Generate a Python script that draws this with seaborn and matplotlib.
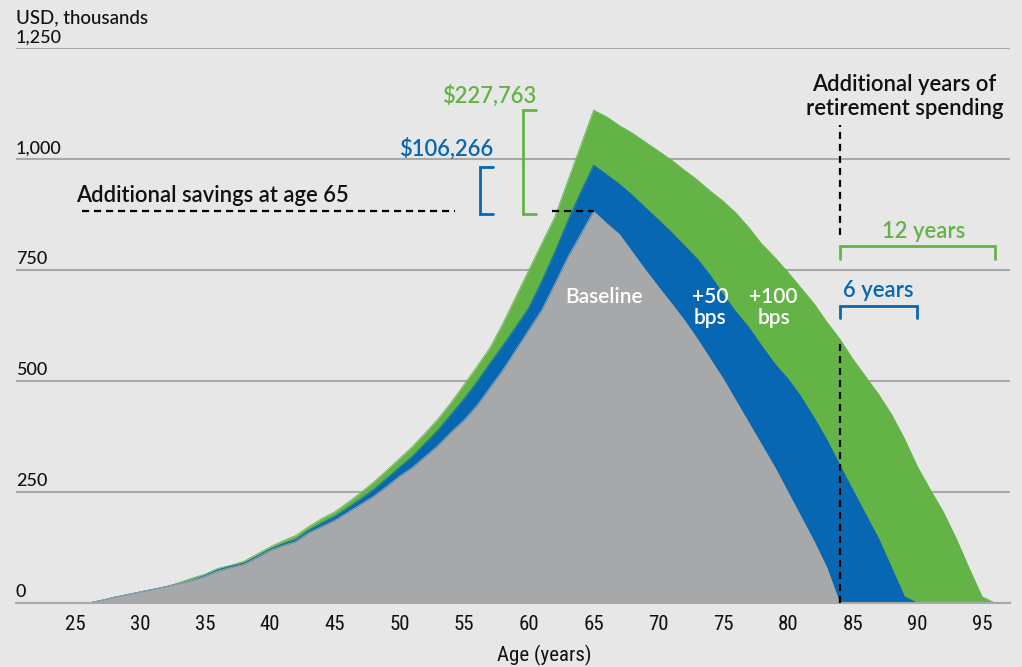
import numpy as np
import pandas as pd
import matplotlib
matplotlib.use("Agg")
import matplotlib.pyplot as plt
import seaborn as sns
from matplotlib import font_manager

# savings balance by age, USD thousands
ages = list(range(26, 97))
baseline = [0, 6, 13, 19, 25, 31, 37, 44, 51, 60, 72, 80, 87, 102, 118, 129, 138, 158, 172, 186,
            204, 222, 240, 262, 285, 305, 330, 355, 385, 412, 445, 485, 525, 570, 615, 660, 718, 778, 830, 882,
            855, 830, 790, 750, 712, 675, 637, 595, 550, 505, 455, 405, 355, 305, 250, 195, 140, 80, 0,
            0, 0, 0, 0, 0, 0, 0, 0, 0, 0, 0, 0]
plus_50 = [0, 6, 13, 19, 25, 31, 37, 44, 52, 62, 75, 83, 90, 105, 121, 133, 143, 164, 180, 195,
           214, 234, 255, 280, 305, 330, 360, 390, 425, 460, 498, 540, 580, 622, 665, 725, 790, 860, 925, 986,
           965, 943, 918, 890, 863, 835, 805, 775, 738, 695, 655, 620, 578, 538, 505, 465, 418, 368, 311,
           255, 200, 145, 80, 14, 0, 0, 0, 0, 0, 0, 0]
plus_100 = [0, 6, 13, 19, 25, 31, 37, 46, 56, 65, 78, 85, 94, 110, 126, 140, 152, 172, 190, 205,
            226, 248, 272, 298, 325, 352, 383, 415, 452, 492, 533, 575, 630, 690, 750, 810, 869, 950, 1030, 1110,
            1095, 1075, 1058, 1038, 1018, 998, 975, 953, 928, 905, 878, 845, 808, 778, 745, 710, 675, 633, 595,
            550, 510, 470, 425, 370, 307, 255, 205, 145, 78, 14, 0]

x_ticks = list(range(25, 100, 5))
y_ticks = [0, 250, 500, 750, 1000, 1250]
y_tick_labels = ['0', '250', '500', '750', '1,000', '1,250']
extra_50_text = '$106,266'
extra_100_text = '$227,763'

BG = '#E7E7E7'
GRAY = '#A7A8AA'
BLUE = '#0767B2'
GREEN = '#63B347'
GRID = '#A8A8A8'

sns.set_style("white")
installed = {f.name for f in font_manager.fontManager.ttflist}
narrow = next((n for n in ['Liberation Sans Narrow', 'Roboto Condensed'] if n in installed), 'DejaVu Sans')
plt.rcParams['font.family'] = ['Lato', 'DejaVu Sans']

df = pd.DataFrame({'age': ages, 'Baseline': baseline, '+50 bps': plus_50, '+100 bps': plus_100})

fig = plt.figure(figsize=(10.22, 6.67), dpi=100, facecolor=BG)
ax = fig.add_axes([16 / 1022, 64 / 667, 994 / 1022, 555 / 667])
ax.set_facecolor(BG)

# overlapping areas, widest at the back
for col, color, z in [('+100 bps', GREEN, 1.0), ('+50 bps', BLUE, 1.1), ('Baseline', GRAY, 1.2)]:
    ax.fill_between(df['age'], 0, df[col], color=color, linewidth=0, zorder=z)
    sns.lineplot(data=df, x='age', y=col, color=color, linewidth=0.6, ax=ax, zorder=z)

ax.set_xlim(20.4, 97.15)
ax.set_ylim(0, 1250)
ax.set_axisbelow(True)
ax.set_yticks(y_ticks)
ax.yaxis.grid(True, color=GRID, linewidth=1.5)
ax.tick_params(axis='y', length=0, labelleft=False)
for v, lab in zip(y_ticks, y_tick_labels):
    ax.annotate(lab, (0, v), xycoords=ax.get_yaxis_transform(), xytext=(0, 2),
                textcoords='offset points', ha='left', va='bottom', fontsize=13,
                fontweight='medium', color='#111111')
fig.text(16 / 1022, 1 - 9 / 667, 'USD, thousands', ha='left', va='top', fontsize=13.5,
         fontweight='medium', color='#111111')

tick_font = dict(family=narrow, size=15, stretch='condensed')
ax.set_xticks(x_ticks)
ax.set_xticklabels([str(t) for t in x_ticks], fontdict=tick_font)
ax.tick_params(axis='x', direction='out', length=5, width=1.5, color=GRID, pad=4, labelcolor='#111111')
for s in ['top', 'right', 'left']:
    ax.spines[s].set_visible(False)
ax.spines['bottom'].set_color(GRID)
ax.spines['bottom'].set_linewidth(1.5)
ax.set_xlabel('Age (years)', fontdict=tick_font, color='#111111')
ax.xaxis.set_label_coords(0.531, -0.076)
ax.set_ylabel('')

# reference points taken from the series
peak_i = int(np.argmax(baseline))
peak_age = ages[peak_i]
b_peak, m_peak, g_peak = baseline[peak_i], plus_50[peak_i], plus_100[peak_i]
base_end = ages[peak_i + baseline[peak_i:].index(0)]
m_end = ages[peak_i + plus_50[peak_i:].index(0)]
g_end = ages[peak_i + plus_100[peak_i:].index(0)]

dash = dict(color='black', linewidth=1.6, dashes=(3.2, 2.2), zorder=5)
ax.plot([25.5, 54.3], [b_peak, b_peak], **dash)
ax.plot([61.8, peak_age], [b_peak, b_peak], **dash)
ax.plot([base_end, base_end], [0, plus_100[ages.index(base_end)] - 10], **dash)
ax.plot([base_end, base_end], [828, 1077], **dash)

# brackets for extra savings at 65
bx = 56.2
ax.plot([bx + 1.0, bx, bx, bx + 1.0], [m_peak - 5, m_peak - 5, b_peak - 5, b_peak - 5],
        color=BLUE, linewidth=2, zorder=5, solid_joinstyle='miter')
gx = 59.55
ax.plot([gx + 1.0, gx, gx, gx + 1.0], [g_peak, g_peak, b_peak - 5, b_peak - 5],
        color=GREEN, linewidth=2, zorder=5, solid_joinstyle='miter')

# brackets for extra years of spending
ax.plot([base_end, base_end, g_end, g_end], [774, 805, 805, 774], color=GREEN, linewidth=2,
        zorder=5, solid_joinstyle='miter')
ax.plot([base_end, base_end, m_end, m_end], [643, 668, 668, 643], color=BLUE, linewidth=2,
        zorder=5, solid_joinstyle='miter')

tk = dict(fontsize=15.8, fontweight='semibold', zorder=6)
ax.text(56.9, 1143, extra_100_text, ha='center', va='center', color=GREEN, **tk)
ax.text(53.6, 1024, extra_50_text, ha='center', va='center', color=BLUE, **tk)
ax.text(25.0, 918, 'Additional savings at age 65', ha='left', va='center', color='#111111', **tk)
ax.text(89.0, 1141, 'Additional years of\nretirement spending', ha='center', va='center',
        color='#111111', linespacing=1.2, **tk)
ax.text((base_end + g_end) / 2 + 0.5, 836, '12 years', ha='center', va='center', color=GREEN, **tk)
ax.text((base_end + m_end) / 2, 704, '6 years', ha='center', va='center', color=BLUE, **tk)

wk = dict(fontsize=15, fontweight='semibold', color='white', ha='center', va='center',
          linespacing=1.05, zorder=6)
ax.text(65.8, 689, 'Baseline', **wk)
ax.text(74.0, 666, '+50\nbps', **wk)
ax.text(78.9, 666, '+100\nbps', **wk)

fig.savefig('out.png', dpi=100, facecolor=BG)
